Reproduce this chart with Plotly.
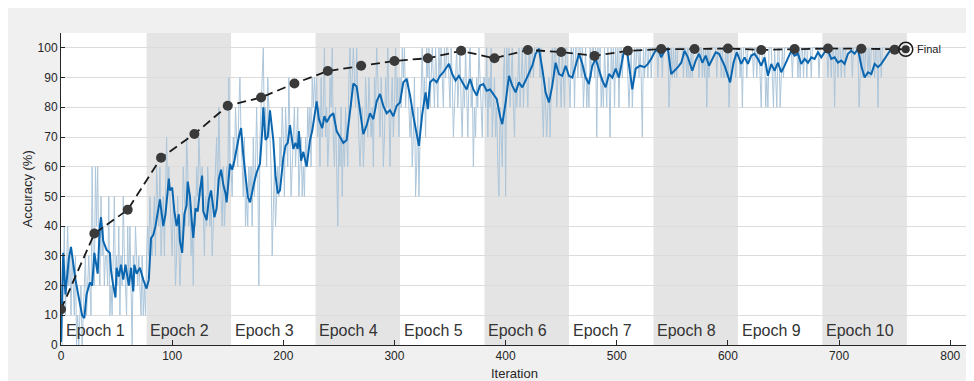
import plotly.graph_objects as go

# ---------------- data ----------------
iters_per_epoch = 76
epoch_labels = ["Epoch 1", "Epoch 2", "Epoch 3", "Epoch 4", "Epoch 5",
                "Epoch 6", "Epoch 7", "Epoch 8", "Epoch 9", "Epoch 10"]

# raw mini-batch accuracy, one character per iteration (digit d -> 10*d %, X -> 100 %)
raw_epoch1 = "0341342313" "2130101201" "2312321632" "6463253423" "3251213523" "2413253214" "2410324323" "213121"
raw_epoch2 = "3435434536" "5463453675" "6543542353" "2346547645" "3425465765" "6435465453" "4567586546" "456596"
raw_epoch3 = "6576876897" "6574546564" "756862789X" "7869876356" "4565768758" "7697567867" "8567565768" "786989"
raw_epoch4 = "89786978X7" "86798X7685" "4768576876" "9X89X98X87" "6786798798" "78698X9879" "86798X7689" "78X897"
raw_epoch5 = "98X9X89987" "8679568579" "X897X9X89X" "98X98X9X98" "X9XX98X978" "9X89X8798X" "879X896879" "8X9879"
raw_epoch6 = "98X798X789" "78658769X5" "X9X89X8798" "9X89X89X98" "X9XX9XXXXX" "9X87987897" "9X9XX89X98" "X98XX9"
raw_epoch7 = "98X9X8XX9X" "X9X89X898X" "9XX9X7X9X8" "98X98X97X9" "X8X9X8XX9X" "XXX989X89X" "9XX9X97X9X" "X9XX9X"
raw_epoch8 = "XXXX9XXX9X" "XXXX89X9X9" "X9XXXXX9XX" "9X99X9XXXX" "X9XX9X9X8X" "9XXXXXX9XX" "X9X99X9X89" "XXXX9X"
raw_epoch9 = "XX9X8XXX9X" "XXXX9XX9XX" "98XXX898XX" "X98X98XX89" "X9XXXXXXX9" "XXXX9X9XX9" "XX9XXX9XXX" "XXX9XX"
raw_epoch10 = "XXXXX9XX9X" "X8XX9XX9XX" "9XXXXXX9XX" "XXX89X9X9X" "X9X9XXX9XX" "8XX9XXXXXX" "XXXXXX"

# smoothed training accuracy
smooth_iter = [0, 2, 4, 7, 9, 11, 13, 16, 19, 21, 23, 26, 28, 30, 32, 33, 35, 36, 38, 41,
               44, 45, 47, 49, 50, 52, 54, 56, 58, 61, 63, 65, 66, 68, 71, 74, 77, 79, 81, 83,
               85, 88, 89, 92, 94, 97, 98, 100, 102, 104, 106, 107, 109, 111, 113, 114, 116, 118, 119, 121,
               123, 125, 127, 128, 131, 133, 135, 138, 140, 142, 144, 146, 148, 149, 150, 152, 154, 156, 160, 162,
               164, 166, 168, 170, 172, 174, 176, 179, 181, 182, 184, 186, 188, 191, 193, 195, 197, 200, 202, 204,
               205, 206, 209, 211, 213, 214, 216, 218, 221, 224, 226, 229, 230, 232, 235, 237, 239, 242, 245, 248,
               251, 254, 257, 260, 263, 266, 269, 272, 275, 278, 281, 284, 287, 290, 293, 296, 299, 302, 305, 308,
               311, 314, 317, 320, 322, 325, 328, 330, 332, 335, 338, 341, 344, 349, 352, 355, 358, 362, 365, 368,
               371, 374, 377, 380, 383, 386, 389, 392, 395, 397, 400, 403, 406, 409, 412, 415, 418, 421, 424, 427,
               430, 433, 436, 439, 442, 445, 448, 451, 454, 457, 460, 463, 466, 469, 472, 475, 478, 481, 484, 487,
               490, 493, 496, 499, 502, 506, 509, 514, 517, 521, 525, 528, 531, 534, 537, 540, 543, 546, 549, 552,
               555, 558, 561, 564, 568, 571, 574, 577, 580, 583, 586, 589, 592, 597, 602, 605, 608, 612, 615, 618,
               621, 624, 627, 630, 633, 636, 639, 642, 645, 648, 651, 654, 657, 660, 663, 666, 669, 672, 675, 678,
               681, 684, 687, 690, 693, 696, 699, 702, 705, 708, 711, 714, 717, 720, 723, 726, 729, 732, 735, 738,
               741, 744, 747, 750]
smooth_acc = [1, 31, 17, 29, 33, 27, 22, 16, 10, 9, 17, 21, 20, 31, 27, 24, 40, 43, 35, 32,
              31, 25, 20, 16, 26, 23, 27, 22, 27, 20, 26, 18, 27, 24, 26, 22, 19, 22, 36, 37,
              40, 48, 49, 40, 44, 56, 52, 53, 45, 40, 44, 35, 31, 44, 47, 55, 50, 40, 36, 46,
              45, 52, 57, 45, 42, 49, 52, 43, 46, 56, 59, 54, 51, 48, 53, 61, 59, 62, 70, 73,
              64, 58, 50, 48, 52, 55, 58, 61, 72, 80, 69, 70, 79, 69, 57, 51, 52, 63, 67, 68,
              71, 74, 66, 68, 66, 72, 62, 65, 60, 69, 72, 80, 82, 76, 73, 77, 75, 77, 78, 72,
              70, 68, 69, 78, 88, 87, 79, 71, 74, 78, 76, 82, 84.5, 80.5, 78, 79, 77, 80.5, 81.6, 88.4,
              89.5, 84, 77, 71.5, 67, 77.7, 85, 79.4, 88.4, 89.5, 88.4, 90.6, 91.8, 94.6, 91.2, 89, 90.6, 87.8, 86, 89.5,
              86, 84, 87.3, 87.8, 85.6, 86, 84.5, 82.8, 77, 74.3, 81.6, 90.6, 87.3, 85, 88.4, 86.7, 89, 91.8, 94, 98,
              99.7, 93, 85, 81.6, 87.3, 95, 91.2, 90.6, 94, 90.6, 90, 94, 98, 94.6, 90, 87.8, 94, 96.3, 93, 89,
              86.7, 91.2, 90, 93, 90, 98, 99.7, 86, 93, 94, 93.5, 94.6, 96.3, 98.5, 100, 96.8, 99, 99.7, 91.2, 92.3,
              93.5, 95, 99, 96.8, 92.3, 95.7, 98, 95, 97.4, 94, 96.3, 98.5, 98, 94, 88.4, 95, 98.5, 94.6, 96.8, 94.6,
              97.4, 98, 96.3, 94, 96.8, 90.6, 94.6, 92.3, 95, 91.8, 94, 96.8, 99, 97.4, 98, 94.6, 96.3, 95, 96.8, 96.3,
              98.5, 96.8, 98.5, 99, 96.3, 96.8, 95, 95.7, 94.6, 98, 99, 98, 99.7, 94, 90, 91.8, 91.2, 94.6, 93.5, 94.6,
              96.3, 98, 99.7, 99.7]

# validation accuracy
val_iter = [0, 30, 60, 90, 120, 150, 180, 210, 240, 270, 300, 330, 360, 390, 420,
            450, 480, 510, 540, 570, 600, 630, 660, 690, 720, 750]
val_acc = [12, 37.5, 45.5, 63, 71, 80.5, 83.3, 88, 92.2, 94, 95.6, 96.5, 99, 96.5, 99.3,
           98.6, 97.3, 99, 99.6, 99.6, 99.8, 99.3, 99.6, 99.8, 99.7, 99.4]
final_iter = [760]
final_acc = [99.5]
final_label = "Final"

x_ticks = [0, 100, 200, 300, 400, 500, 600, 700, 800]
y_ticks = [0, 10, 20, 30, 40, 50, 60, 70, 80, 90, 100]

# ---------------- build ----------------
raw_all = (raw_epoch1 + raw_epoch2 + raw_epoch3 + raw_epoch4 + raw_epoch5 +
           raw_epoch6 + raw_epoch7 + raw_epoch8 + raw_epoch9 + raw_epoch10)
raw_acc = [100 if c == "X" else 10 * int(c) for c in raw_all]
raw_iter = list(range(1, len(raw_acc) + 1))

FONT = "Liberation Sans, Arial, sans-serif"
fig = go.Figure()

fig.add_trace(go.Scatter(x=raw_iter, y=raw_acc, mode="lines",
                         line=dict(color="#adc6da", width=1), showlegend=False, hoverinfo="skip"))
fig.add_trace(go.Scatter(x=smooth_iter, y=smooth_acc, mode="lines",
                         line=dict(color="#0b66b0", width=2), showlegend=False))
fig.add_trace(go.Scatter(x=val_iter + final_iter, y=val_acc + final_acc, mode="lines",
                         line=dict(color="#1a1a1a", width=1.8, dash="9px,5px"), showlegend=False))
fig.add_trace(go.Scatter(x=val_iter, y=val_acc, mode="markers",
                         marker=dict(color="#3a3a3a", size=10, line=dict(width=0)), showlegend=False))
fig.add_trace(go.Scatter(x=final_iter, y=final_acc, mode="markers",
                         marker=dict(color="rgba(0,0,0,0)", size=14, line=dict(color="#1a1a1a", width=1.5)),
                         showlegend=False))
fig.add_trace(go.Scatter(x=final_iter, y=final_acc, mode="markers",
                         marker=dict(color="#333", size=8), showlegend=False))

shapes = []
annotations = []
for k, lab in enumerate(epoch_labels):
    x0 = k * iters_per_epoch + 1
    x1 = (k + 1) * iters_per_epoch + 1
    if k % 2 == 1:
        shapes.append(dict(type="rect", xref="x", yref="y", x0=x0, x1=x1, y0=0, y1=105,
                           fillcolor="#e4e4e4", line=dict(width=0), layer="below"))
    annotations.append(dict(x=x0 + 1.5, y=4.8, xref="x", yref="y", text=lab, showarrow=False,
                            xanchor="left", yanchor="middle",
                            font=dict(family=FONT, size=16, color="#333")))

annotations.append(dict(x=final_iter[0] + 8, y=final_acc[0], xref="x", yref="y", text=final_label,
                        showarrow=False, xanchor="left", yanchor="middle",
                        font=dict(family=FONT, size=11, color="#222")))
annotations.append(dict(x=0.5, y=-0.062, xref="paper", yref="paper", text="Iteration", showarrow=False,
                        xanchor="center", yanchor="top", font=dict(family=FONT, size=13, color="#262626")))
annotations.append(dict(x=-0.038, y=0.5, xref="paper", yref="paper", text="Accuracy (%)", showarrow=False,
                        textangle=-90, xanchor="center", yanchor="middle",
                        font=dict(family=FONT, size=13, color="#262626")))

fig.update_layout(
    width=966, height=373,
    margin=dict(l=53, r=6, t=25, b=36),
    paper_bgcolor="#f0f0f0", plot_bgcolor="white",
    shapes=shapes, annotations=annotations,
    font=dict(family=FONT, size=12, color="#262626"),
)
fig.update_xaxes(range=[0, 816], tickvals=x_ticks, showgrid=False, zeroline=False,
                 showline=True, linecolor="#262626", linewidth=1,
                 ticks="inside", ticklen=5, tickcolor="#262626",
                 tickfont=dict(family=FONT, size=12, color="#262626"))
fig.update_yaxes(range=[0, 105], tickvals=y_ticks, showgrid=True, gridcolor="#dcdcdc", gridwidth=1,
                 zeroline=False, showline=True, linecolor="#262626", linewidth=1,
                 ticks="inside", ticklen=4, tickcolor="#262626",
                 tickfont=dict(family=FONT, size=12, color="#262626"))

fig.write_html("out.html")
